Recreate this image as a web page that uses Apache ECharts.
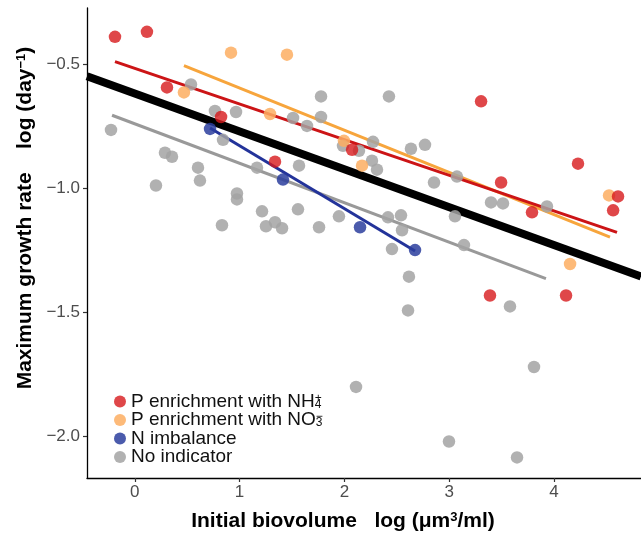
<!DOCTYPE html>
<html>
<head>
<meta charset="utf-8">
<script src="https://cdn.jsdelivr.net/npm/echarts@6/dist/echarts.min.js"></script>
<style>
html,body{margin:0;padding:0;background:#fff;}
#chart{width:641px;height:537px;}
</style>
</head>
<body>
<div id="chart"></div>
<script>
// ---- data (log initial biovolume, log max growth rate) ----
const seriesNames = ['P enrichment with NH4+', 'P enrichment with NO3-', 'N imbalance', 'No indicator'];

const nh4X = [-0.189, 0.116, 0.307, 0.823, 1.338, 2.073, 3.304, 3.495, 4.229, 4.611, 4.564, 3.790, 3.389, 4.115];
const nh4Y = [-0.391, -0.371, -0.595, -0.714, -0.894, -0.846, -0.651, -0.978, -0.902, -1.034, -1.090, -1.098, -1.433, -1.433];

const no3X = [0.918, 1.452, 0.469, 1.290, 1.996, 2.168, 4.525, 4.153];
const no3Y = [-0.455, -0.463, -0.615, -0.702, -0.810, -0.910, -1.030, -1.306];

const nimbX = [0.718, 1.414, 2.149, 2.674];
const nimbY = [-0.762, -0.966, -1.158, -1.250];

const noneX = [-0.227, 0.536, 0.765, 0.966, 0.842, 0.288, 0.355, 0.603, 0.622, 0.202, 0.975, 0.975, 1.166, 1.567, 1.214, 1.557, 0.832, 1.252, 1.338, 1.405, 1.758, 1.948, 1.777, 1.510, 1.643, 1.777, 1.987, 2.139, 2.273, 2.263, 2.311, 2.425, 2.635, 2.769, 2.855, 3.074, 3.399, 3.513, 3.933, 2.416, 2.540, 2.550, 2.454, 3.055, 3.141, 2.616, 2.607, 3.580, 3.809, 2.111, 2.998, 3.647];
const noneY = [-0.766, -0.583, -0.690, -0.694, -0.806, -0.858, -0.874, -0.918, -0.970, -0.990, -1.022, -1.046, -0.918, -0.910, -1.094, -1.086, -1.150, -1.154, -1.138, -1.162, -1.158, -1.114, -0.631, -0.718, -0.750, -0.714, -0.830, -0.850, -0.814, -0.890, -0.926, -0.631, -0.842, -0.826, -0.978, -0.954, -1.058, -1.062, -1.074, -1.118, -1.110, -1.170, -1.246, -1.114, -1.230, -1.357, -1.493, -1.477, -1.721, -1.801, -2.021, -2.085];

// fitted regression lines: [x start, x end], [y start, y end]
const fitNh4X = [-0.189, 4.601];  const fitNh4Y = [-0.491, -1.179];
const fitNo3X = [0.469, 4.534];   const fitNo3Y = [-0.507, -1.198];
const fitNimbX = [0.718, 2.674];  const fitNimbY = [-0.758, -1.254];
const fitNoneX = [-0.217, 3.923]; const fitNoneY = [-0.707, -1.365];
const fitAllX = [-0.456, 4.830];  const fitAllY = [-0.550, -1.356];

const xTicks = [0, 1, 2, 3, 4];
const yTicks = [-2.0, -1.5, -1.0, -0.5];

// ---- chart ----
const zip = (xs, ys) => xs.map((x, i) => [x, ys[i]]);
const chart = echarts.init(document.getElementById('chart'), null, {renderer: 'canvas'});
const FF = 'Liberation Sans, Arial, sans-serif';

const colors = {
  nh4: '#d7191c', no3: '#fdae61', nimb: '#2c3e9e', none: '#a3a3a3'
};

function fitLine(name, xs, ys, color, width, z) {
  return {
    name: name, type: 'line', data: zip(xs, ys), symbol: 'none', silent: true,
    lineStyle: {color: color, width: width}, z: z, animation: false
  };
}
function pts(name, xs, ys, color, op, z) {
  return {
    name: name, type: 'scatter', data: zip(xs, ys), symbol: 'circle', symbolSize: 12.5,
    itemStyle: {color: color, opacity: op}, z: z, animation: false
  };
}

const legendLabels = {
  'P enrichment with NH4+': 'P enrichment with NH{sup|+}{sub|4}',
  'P enrichment with NO3-': 'P enrichment with NO{sup|−}{sub|3}',
  'N imbalance': 'N imbalance',
  'No indicator': 'No indicator'
};

const option = {
  backgroundColor: '#ffffff',
  animation: false,
  grid: {left: 87, right: 0, top: 8, bottom: 55, containLabel: false},
  xAxis: {
    type: 'value', min: -0.456, max: 4.830,
    name: 'Initial biovolume   log (μm{sup|3}/ml)',
    nameLocation: 'middle', nameGap: 33,
    nameTextStyle: {
      fontFamily: FF, fontWeight: 'bold', fontSize: 21, color: '#000',
      padding: [0, 42, 0, 0],
      rich: {sup: {fontSize: 13, fontWeight: 'bold', verticalAlign: 'top', lineHeight: 13, fontFamily: FF, color: '#000'}}
    },
    axisLine: {show: true, onZero: false, lineStyle: {color: '#000', width: 1.3}},
    axisTick: {show: true, length: 4, customValues: xTicks, lineStyle: {color: '#333', width: 1.2}},
    axisLabel: {customValues: xTicks, fontSize: 17, color: '#4d4d4d', margin: 6, fontFamily: FF,
      formatter: v => String(Math.round(v))},
    splitLine: {show: false}
  },
  yAxis: {
    type: 'value', min: -2.168, max: -0.275,
    name: 'Maximum growth rate    log (day{sup|−1})',
    nameLocation: 'middle', nameGap: 45, nameRotate: 90,
    nameTextStyle: {
      fontFamily: FF, fontWeight: 'bold', fontSize: 21, color: '#000',
      padding: [0, 0, 0, 50],
      rich: {sup: {fontSize: 13, fontWeight: 'bold', verticalAlign: 'top', lineHeight: 13, fontFamily: FF, color: '#000'}}
    },
    axisLine: {show: true, onZero: false, lineStyle: {color: '#000', width: 1.3}},
    axisTick: {show: true, length: 4, customValues: yTicks, lineStyle: {color: '#333', width: 1.2}},
    axisLabel: {customValues: yTicks, fontSize: 17, color: '#4d4d4d', margin: 7, fontFamily: FF,
      formatter: v => (v < 0 ? '\u2212' : '') + Math.abs(v).toFixed(1)},
    splitLine: {show: false}
  },
  legend: {
    orient: 'vertical', left: 109, top: 387,
    itemWidth: 12, itemHeight: 12, itemGap: -0.5, icon: 'circle',
    data: seriesNames,
    selectedMode: false,
    formatter: n => legendLabels[n],
    textStyle: {
      fontFamily: FF, fontSize: 19, color: '#111', lineHeight: 18, padding: [0, 0, 0, 0],
      rich: {
        sup: {fontSize: 12, lineHeight: 18, verticalAlign: 'top', width: 0, color: '#111', fontFamily: FF},
        sub: {fontSize: 12, lineHeight: 18, verticalAlign: 'bottom', color: '#111', fontFamily: FF, padding: [6, 0, 0, 0]}
      }
    }
  },
  series: [
    fitLine('fitAll', fitAllX, fitAllY, '#000000', 8, 2),
    fitLine('fitNone', fitNoneX, fitNoneY, '#999999', 3, 3),
    fitLine('fitNimb', fitNimbX, fitNimbY, '#23339a', 3, 3),
    fitLine('fitNo3', fitNo3X, fitNo3Y, '#f7a53c', 3, 3),
    fitLine('fitNh4', fitNh4X, fitNh4Y, '#cc1416', 3, 3),
    pts(seriesNames[3], noneX, noneY, colors.none, 0.85, 4),
    pts(seriesNames[2], nimbX, nimbY, colors.nimb, 0.85, 5),
    pts(seriesNames[1], no3X, no3Y, colors.no3, 0.85, 5),
    pts(seriesNames[0], nh4X, nh4Y, colors.nh4, 0.8, 5)
  ]
};
chart.setOption(option);
</script>
</body>
</html>
